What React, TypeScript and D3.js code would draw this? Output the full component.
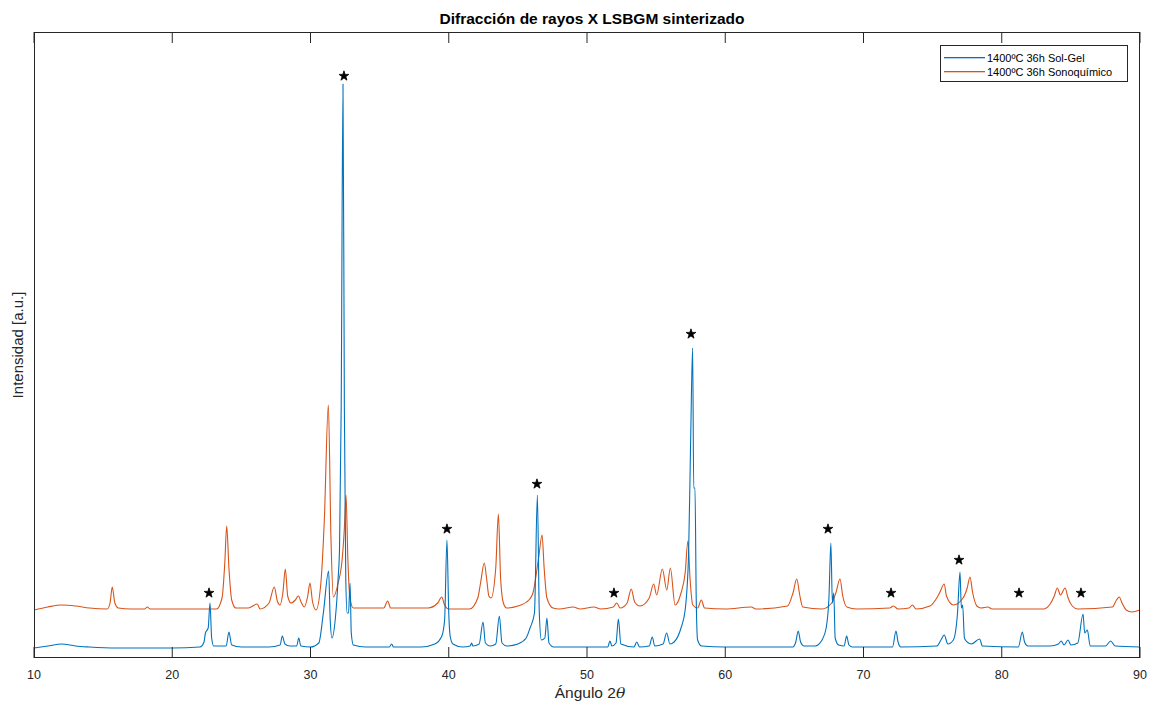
import React from "react";
import * as d3 from "d3";

const TITLE = "Difracción de rayos X LSBGM sinterizado";
const X_TICKS = [10, 20, 30, 40, 50, 60, 70, 80, 90];
const SERIES_NAMES = ["1400ºC 36h Sol-Gel", "1400ºC 36h Sonoquímico"];

// [2θ, intensity a.u.]
const solGel: [number, number][] = [
  [10.0, 10], [11.0, 12], [12.0, 14], [13.0, 12], [14.0, 11], [16, 10], [18, 10], [20, 10],
  [22.0, 11], [22.3, 16], [22.4, 25], [22.6, 30], [22.73, 55], [22.85, 20], [23.0, 12],
  [23.9, 12], [24.1, 26], [24.3, 13], [25, 11], [27, 11], [27.8, 13], [27.96, 22], [28.15, 14],
  [28.5, 12], [29.0, 12], [29.15, 20], [29.3, 12], [30.0, 11], [30.6, 15], [30.93, 45],
  [31.31, 87], [31.42, 40], [31.55, 20], [31.8, 40], [32.0, 80], [32.1, 110], [32.22, 250],
  [32.35, 574], [32.45, 250], [32.55, 80], [32.65, 45], [32.75, 45], [32.86, 75], [32.95, 25],
  [33.1, 13], [34, 11], [35.7, 11], [35.87, 14], [36.0, 11], [38, 11], [39.0, 14], [39.5, 22],
  [39.7, 38], [39.87, 118], [40.0, 45], [40.1, 22], [40.3, 14], [41, 11], [41.55, 12],
  [41.65, 15], [41.75, 12], [42.2, 14], [42.48, 36], [42.65, 15], [43.0, 12], [43.4, 14],
  [43.66, 42], [43.85, 15], [44.2, 12], [45.0, 14], [45.6, 20], [45.88, 30], [46.2, 45],
  [46.41, 163], [46.55, 45], [46.7, 18], [46.95, 20], [47.1, 40], [47.25, 15], [47.6, 11],
  [48, 11], [51.5, 11], [51.66, 17], [51.8, 12], [52.1, 15], [52.27, 39], [52.45, 14],
  [53.4, 11], [53.6, 16], [53.8, 11], [54.5, 12], [54.72, 21], [54.9, 12], [55.5, 14],
  [55.76, 25], [56.0, 14], [56.3, 16], [56.8, 30], [57.1, 48], [57.35, 105], [57.5, 220],
  [57.64, 310], [57.72, 170], [57.81, 170], [57.9, 60], [58.0, 18], [58.3, 12], [60, 11],
  [64.9, 11], [65.1, 16], [65.28, 27], [65.45, 16], [65.7, 12], [66.5, 12], [67.0, 18],
  [67.3, 30], [67.5, 60], [67.64, 115], [67.75, 55], [67.85, 65], [67.95, 20], [68.2, 13],
  [68.6, 12], [68.78, 22], [68.95, 13], [69.2, 11], [72.1, 11], [72.35, 27], [72.5, 16],
  [72.7, 11], [75.3, 12], [75.6, 18], [75.84, 23], [76.1, 14], [76.5, 18], [76.8, 45],
  [76.98, 86], [77.08, 50], [77.17, 53], [77.3, 20], [77.5, 16], [77.8, 14], [78.4, 19],
  [78.6, 12], [81.2, 11], [81.49, 26], [81.65, 16], [81.9, 12], [83.5, 12], [84.1, 14],
  [84.3, 17], [84.5, 13], [84.8, 18], [85.0, 13], [85.5, 15], [85.88, 44], [86.0, 25],
  [86.19, 28], [86.4, 12], [87.5, 12], [87.88, 17], [88.2, 12], [90, 11],
];

const sonoquimico: [number, number][] = [
  [10.0, 48], [11, 51], [12, 53], [13, 52], [14, 50], [15.3, 49], [15.5, 55], [15.66, 71],
  [15.85, 55], [16.1, 50], [17, 49], [18.0, 49], [18.2, 51], [18.4, 49], [20, 49], [23.2, 49],
  [23.6, 60], [23.8, 95], [23.94, 132], [24.1, 90], [24.3, 58], [24.6, 50], [25.5, 50],
  [26.15, 54], [26.35, 49], [27.0, 55], [27.38, 71], [27.6, 57], [27.79, 53], [28.0, 65],
  [28.18, 89], [28.35, 62], [28.59, 55], [28.9, 58], [29.12, 62], [29.35, 55], [29.55, 51],
  [29.8, 62], [29.96, 75], [30.15, 56], [30.4, 48], [30.75, 75], [31.0, 138], [31.29, 253],
  [31.48, 120], [31.65, 61], [32.0, 75], [32.3, 100], [32.45, 130], [32.57, 163], [32.7, 100],
  [32.85, 60], [33.1, 50], [35.3, 50], [35.58, 57], [35.8, 50], [38.5, 50], [39.2, 55],
  [39.49, 61], [39.7, 53], [40.0, 49], [41.5, 49], [42.1, 60], [42.3, 75], [42.57, 95],
  [42.75, 78], [42.9, 62], [43.06, 60], [43.4, 90], [43.59, 144], [43.75, 80], [43.95, 55],
  [44.19, 50], [45.0, 52], [45.8, 58], [46.09, 65], [46.5, 100], [46.75, 123], [46.9, 90],
  [47.1, 60], [47.54, 50], [48, 49], [49.0, 51], [49.5, 49], [50.5, 51], [51.0, 49],
  [51.9, 51], [52.15, 55], [52.4, 50], [52.9, 55], [53.2, 69], [53.45, 56], [53.83, 52],
  [54.5, 60], [54.82, 74], [55.04, 63], [55.45, 89], [55.77, 68], [56.03, 90], [56.37, 53],
  [56.8, 65], [57.1, 85], [57.3, 117], [57.45, 80], [57.65, 53], [58.0, 50], [58.27, 58],
  [58.5, 50], [60, 49], [61.9, 51], [62.2, 49], [64.5, 52], [64.9, 65], [65.17, 79],
  [65.4, 62], [65.6, 51], [67.0, 49], [67.7, 55], [68.0, 65], [68.3, 79], [68.5, 62],
  [68.8, 51], [69.5, 49], [71.9, 50], [72.16, 52], [72.5, 49], [73.3, 50], [73.53, 53],
  [73.8, 49], [74.8, 52], [75.3, 60], [75.5, 65], [75.84, 74], [76.0, 62], [76.5, 53],
  [77.2, 60], [77.5, 70], [77.7, 81], [77.9, 65], [78.2, 52], [78.5, 50], [79.0, 51],
  [79.3, 49], [83.0, 49], [83.5, 54], [83.8, 62], [84.02, 70], [84.25, 63], [84.58, 70],
  [84.8, 60], [85.1, 52], [85.5, 49], [88.0, 51], [88.3, 58], [88.5, 61], [88.7, 55],
  [89.0, 48], [89.4, 46], [90, 48],
];

const starAngles = [22.66, 32.42, 39.87, 46.38, 51.95, 57.52, 67.43, 71.99, 76.91, 81.25, 85.73];
const starIntensity = [65, 582, 129, 174, 65, 324, 129, 65, 98, 65, 65];

const SOLGEL_COLOR = "#0072BD";
const SONO_COLOR = "#D95319";
const COLORS = [SOLGEL_COLOR, SONO_COLOR];

export default function App() {
  const W = 1150, H = 702;
  const left = 34, right = 1140, top = 32, bottom = 658;
  const x = d3.scaleLinear().domain([10, 90]).range([left, right]);
  const y = d3.scaleLinear().domain([0, 626]).range([bottom, top]);
  const line = d3
    .line<[number, number]>()
    .x((d) => x(d[0]))
    .y((d) => y(d[1]))
    .curve(d3.curveMonotoneX);
  const star = d3.symbol().type(d3.symbolStar).size(30)();
  const axisColor = "#262626";
  const font = "'Liberation Sans', Arial, Helvetica, sans-serif";

  return (
    <svg
      width={W}
      height={H}
      style={{ position: "absolute", left: 0, top: 0, background: "#fff" }}
      fontFamily={font}
    >
      <rect x={0} y={0} width={W} height={H} fill="#fff" />
      <defs>
        <clipPath id="plotclip">
          <rect x={left} y={top} width={right - left} height={bottom - top} />
        </clipPath>
      </defs>
      <g clipPath="url(#plotclip)">
        <path d={line(sonoquimico) || ""} fill="none" stroke={SONO_COLOR} strokeWidth={1.1} strokeLinejoin="round" />
        <path d={line(solGel) || ""} fill="none" stroke={SOLGEL_COLOR} strokeWidth={1.1} strokeLinejoin="round" />
      </g>
      {starAngles.map((a, i) => (
        <path key={i} d={star || ""} transform={`translate(${x(a)},${y(starIntensity[i])})`} fill="#000" stroke="#000" strokeWidth={0.8} />
      ))}
      {/* axes box */}
      <rect x={left + 0.5} y={top + 0.5} width={right - left - 1} height={bottom - top - 1} fill="none" stroke={axisColor} strokeWidth={1} />
      {X_TICKS.map((t) => (
        <g key={t}>
          <line x1={x(t)} x2={x(t)} y1={bottom} y2={bottom - 11} stroke={axisColor} strokeWidth={1} />
          <line x1={x(t)} x2={x(t)} y1={top} y2={top + 11} stroke={axisColor} strokeWidth={1} />
          <text x={x(t)} y={679} textAnchor="middle" fontSize={12.5} fill={axisColor}>
            {t}
          </text>
        </g>
      ))}
      <text x={(left + right) / 2 + 5} y={24} textAnchor="middle" fontSize={15.5} fontWeight="bold" fill="#000">
        {TITLE}
      </text>
      <text x={(left + right) / 2 + 3} y={698} textAnchor="middle" fontSize={15.5} fill={axisColor}>
        Ángulo 2<tspan fontStyle="italic" fontFamily="'DejaVu Serif', serif">θ</tspan>
      </text>
      <text transform={`translate(23,${(top + bottom) / 2}) rotate(-90)`} textAnchor="middle" fontSize={15} fill={axisColor}>
        Intensidad [a.u.]
      </text>
      {/* legend */}
      <g>
        <rect x={940.5} y={45.5} width={187} height={36} fill="#fff" stroke={axisColor} strokeWidth={1} />
        {SERIES_NAMES.map((n, i) => (
          <g key={n}>
            <rect x={944} y={57 + i * 14} width={41} height={1.3} fill={COLORS[i]} />
            <text x={987} y={57.5 + i * 14 + 4} fontSize={11} fill="#000">
              {n}
            </text>
          </g>
        ))}
      </g>
    </svg>
  );
}
